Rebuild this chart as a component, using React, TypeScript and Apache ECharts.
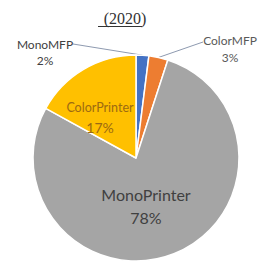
import React, { useEffect, useRef } from 'react';
import * as echarts from 'echarts';

const titleText = '(2020)';
const categories = ['MonoMFP', 'ColorMFP', 'MonoPrinter', 'ColorPrinter'];
const values = [2, 3, 78, 17];
const colors = ['#4472C4', '#ED7D31', '#A5A5A5', '#FFC000'];

const labelStyles = [
  { pos: 'outside', color: '#404040', n: 12, p: 12, lh: 16, x: 45, y: 52, lineEnd: [73, 44] },
  { pos: 'outside', color: '#595959', n: 12, p: 12, lh: 17, x: 230, y: 49, lineEnd: [203, 42] },
  { pos: 'inside', color: '#404040', n: 16, p: 16, lh: 23, x: 146, y: 206, lineEnd: null },
  { pos: 'inside', color: '#9C6A12', n: 12.5, p: 14, lh: 20, x: 100, y: 117, lineEnd: null },
];

export default function App() {
  const ref = useRef<HTMLDivElement>(null);
  useEffect(() => {
    const chart = echarts.init(ref.current!, null, { renderer: 'svg' });
    const data = categories.map((name, i) => {
      const s = labelStyles[i];
      return {
        name,
        value: values[i],
        itemStyle: { color: colors[i] },
        label: {
          show: true,
          position: s.pos,
          overflow: 'none',
          formatter: '{n|{b}}\n{p|{d}%}',
          rich: {
            n: { fontSize: s.n, color: s.color, fontFamily: 'Lato', lineHeight: s.lh, align: 'center' },
            p: { fontSize: s.p, color: s.color, fontFamily: 'Lato', lineHeight: s.lh, align: 'center' },
          },
        },
        labelLine: { show: s.pos === 'outside', lineStyle: { color: '#8E9AB0', width: 1 } },
      };
    });
    chart.setOption({
      animation: false,
      title: {
        text: titleText,
        left: 120,
        top: 5,
        textAlign: 'center',
        textStyle: { fontFamily: 'Liberation Serif', fontSize: 16, fontWeight: 'normal', color: '#333333' },
      },
      graphic: [
        { type: 'line', shape: { x1: 98, y1: 26.5, x2: 142, y2: 26.5 }, style: { stroke: '#333333', lineWidth: 1 } },
      ],
      series: [
        {
          type: 'pie',
          center: [136, 158],
          radius: [0, 103],
          startAngle: 90,
          clockwise: true,
          avoidLabelOverlap: false,
          itemStyle: { borderColor: '#ffffff', borderWidth: 1.5 },
          data,
          labelLayout: (params: any) => {
            const s = labelStyles[params.dataIndex];
            const out: any = { x: s.x, y: s.y, align: 'center', verticalAlign: 'middle' };
            if (s.lineEnd && params.labelLinePoints && params.labelLinePoints[0]) {
              out.labelLinePoints = [params.labelLinePoints[0], s.lineEnd];
            }
            return out;
          },
        },
      ],
    });
    return () => chart.dispose();
  }, []);
  return <div ref={ref} style={{ position: 'fixed', left: 0, top: 0, width: 259, height: 266, background: '#fff' }} />;
}
